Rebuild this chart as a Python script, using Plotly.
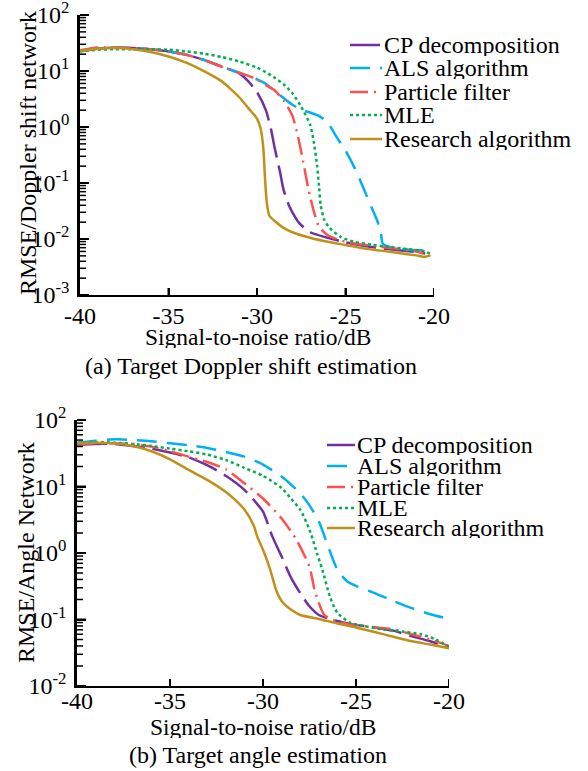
import math
import plotly.graph_objects as go

# ---------------- data: (a) Doppler shift estimation ----------------
snr_a_cp = [-40, -39, -38, -37, -36, -35, -34, -33, -32, -31, -30.5, -30, -29.5, -29.2, -29, -28.7, -28.5, -28.2, -28, -27.6, -27, -26, -25, -24, -23, -22, -21, -20.5]
rmse_a_cp = [22.9, 25.1, 26.3, 25.7, 24.5, 22.4, 19.5, 15.8, 12.0, 9.1, 6.6, 4.2, 2.0, 0.89, 0.42, 0.158, 0.076, 0.040, 0.030, 0.019, 0.0132, 0.0105, 0.0087, 0.0076, 0.0069, 0.0063, 0.0059, 0.0055]

snr_a_als = [-40, -39, -38, -37, -36, -35, -34, -33, -32, -31, -30, -29.5, -29, -28.5, -28, -27.5, -27, -26.5, -26, -25.5, -25, -24.5, -24, -23.5, -23.2, -23, -22.9, -22.5, -22, -21.5, -21, -20.5, -20.2]
rmse_a_als = [22.9, 25.7, 26.3, 25.7, 24.5, 22.4, 19.5, 15.8, 12.0, 9.3, 7.1, 5.9, 4.4, 3.3, 2.5, 2.04, 1.82, 1.58, 1.2, 0.66, 0.38, 0.19, 0.083, 0.035, 0.021, 0.0126, 0.0083, 0.0072, 0.0068, 0.0065, 0.0063, 0.0062, 0.0050]

snr_a_pf = [-40, -39, -38, -37, -36, -35, -34, -33, -32, -31, -30, -29.5, -29, -28.5, -28, -27.7, -27.4, -27.1, -26.8, -26.5, -26, -25, -24, -23, -22, -21, -20.6]
rmse_a_pf = [23.4, 26.3, 26.3, 25.7, 24.5, 22.4, 19.5, 15.8, 12.0, 9.3, 7.1, 5.6, 4.5, 3.0, 1.58, 0.71, 0.25, 0.079, 0.032, 0.0166, 0.0117, 0.0089, 0.0079, 0.0072, 0.0066, 0.0060, 0.0055]

snr_a_mle = [-40, -39, -38, -37, -36, -35, -34, -33, -32, -31, -30, -29.5, -29, -28.5, -28, -27.5, -27, -26.8, -26.6, -26.5, -26.4, -26.2, -25.9, -25.3, -24.5, -23.5, -22.5, -21.5, -20.5, -20.2]
rmse_a_mle = [22.4, 24.0, 24.5, 24.5, 24.5, 24.0, 22.4, 20.4, 17.8, 14.8, 11.5, 9.5, 7.6, 5.8, 4.0, 2.3, 1.1, 0.56, 0.20, 0.089, 0.040, 0.022, 0.0158, 0.011, 0.0089, 0.0079, 0.0072, 0.0066, 0.0060, 0.0054]

snr_a_res = [-40, -39, -38, -37, -36, -35, -34, -33, -32, -31.5, -31, -30.5, -30, -29.8, -29.65, -29.55, -29.45, -29.3, -29, -28.5, -28, -27, -26, -25, -24, -23, -22, -21, -20.5, -20.2]
rmse_a_res = [22.9, 25.1, 25.7, 24.5, 21.9, 18.2, 14.1, 10.0, 6.6, 4.8, 3.4, 2.2, 1.41, 0.95, 0.45, 0.126, 0.045, 0.026, 0.021, 0.0158, 0.0132, 0.0105, 0.0089, 0.0078, 0.0068, 0.0062, 0.0056, 0.0051, 0.0048, 0.0051]

# ---------------- data: (b) angle estimation ----------------
snr_b_cp = [-40, -39, -38, -37, -36, -35, -34, -33, -32, -31, -30.5, -30, -29.5, -29, -28.5, -28, -27.5, -27, -26, -25, -24, -23, -22, -21, -20]
rmse_b_cp = [42.7, 43.7, 43.7, 40.7, 37.2, 32.4, 27.5, 20.9, 14.5, 8.9, 6.3, 4.2, 1.78, 0.89, 0.43, 0.25, 0.158, 0.117, 0.095, 0.083, 0.076, 0.068, 0.056, 0.047, 0.038]

snr_b_als = [-40, -39, -38, -37, -36, -35, -34, -33, -32, -31, -30, -29, -28, -27.5, -27, -26.5, -26, -25.5, -25, -24, -23, -22, -21, -20.3]
rmse_b_als = [45.7, 49.0, 51.3, 50.1, 47.9, 44.7, 41.7, 38.0, 33.1, 28.2, 21.4, 14.1, 7.9, 5.2, 3.0, 1.26, 0.56, 0.38, 0.32, 0.25, 0.19, 0.148, 0.120, 0.107]

snr_b_pf = [-40, -39, -38, -37, -36, -35, -34, -33, -32, -31, -30, -29, -28.2, -27.5, -27.2, -26.7, -26, -25, -24, -23, -22, -21, -20]
rmse_b_pf = [43.7, 44.7, 44.7, 43.7, 39.8, 33.9, 28.2, 23.4, 18.2, 11.2, 6.6, 3.3, 1.58, 0.62, 0.26, 0.117, 0.093, 0.083, 0.076, 0.071, 0.060, 0.050, 0.040]

snr_b_mle = [-40, -39, -38, -37, -36, -35, -34, -33, -32, -31, -30, -29, -28.5, -28, -27.5, -27.1, -26.8, -26.4, -26, -25.3, -24.5, -23.5, -22.5, -21.5, -20.7, -20]
rmse_b_mle = [44.7, 46.8, 45.7, 43.7, 40.7, 37.2, 33.9, 30.2, 25.1, 19.1, 14.5, 9.5, 6.6, 4.5, 2.24, 1.0, 0.55, 0.22, 0.126, 0.089, 0.079, 0.071, 0.066, 0.060, 0.050, 0.039]

snr_b_res = [-40, -39, -38, -37, -36, -35, -34, -33, -32, -31.5, -31, -30.5, -30.3, -30, -29.6, -29.3, -29, -28.5, -28, -27, -26, -25, -24, -23, -22, -21, -20]
rmse_b_res = [44.7, 45.7, 44.7, 40.7, 33.9, 25.7, 17.8, 12.6, 8.3, 6.3, 4.5, 2.6, 1.74, 1.12, 0.55, 0.28, 0.19, 0.141, 0.117, 0.102, 0.087, 0.076, 0.065, 0.055, 0.047, 0.042, 0.037]

series_names = ["CP decomposition", "ALS algorithm", "Particle filter", "MLE", "Research algorithm"]
colors = ["#7030A0", "#00B0F0", "#FF5050", "#00B050", "#C09018"]
dashes = ["30px,8px", "20px,10px", "18px,6px,2px,6px", "3px,3px", "solid"]

x_ticks = [-40, -35, -30, -25, -20]
x_labels = ["-40", "-35", "-30", "-25", "-20"]
y_ticks_a = [1e-3, 1e-2, 1e-1, 1e0, 1e1, 1e2]
y_labels_a = ["10<sup>-3</sup>", "10<sup>-2</sup>", "10<sup>-1</sup>", "10<sup>0</sup>", "10<sup>1</sup>", "10<sup>2</sup>"]
y_ticks_b = [1e-2, 1e-1, 1e0, 1e1, 1e2]
y_labels_b = ["10<sup>-2</sup>", "10<sup>-1</sup>", "10<sup>0</sup>", "10<sup>1</sup>", "10<sup>2</sup>"]

W, H = 588, 771
FONT = "Liberation Serif"
FS = 24

data_a = [(snr_a_cp, rmse_a_cp), (snr_a_als, rmse_a_als), (snr_a_pf, rmse_a_pf), (snr_a_mle, rmse_a_mle), (snr_a_res, rmse_a_res)]
data_b = [(snr_b_cp, rmse_b_cp), (snr_b_als, rmse_b_als), (snr_b_pf, rmse_b_pf), (snr_b_mle, rmse_b_mle), (snr_b_res, rmse_b_res)]

fig = go.Figure()
for i in range(5):
    x, y = data_a[i]
    fig.add_trace(go.Scatter(x=x, y=y, mode="lines", name=series_names[i], showlegend=False,
                             line=dict(color=colors[i], width=2.5, dash=dashes[i], shape="spline", smoothing=0.6),
                             xaxis="x", yaxis="y"))
for i in range(5):
    x, y = data_b[i]
    fig.add_trace(go.Scatter(x=x, y=y, mode="lines", name=series_names[i], showlegend=False,
                             line=dict(color=colors[i], width=2.5, dash=dashes[i], shape="spline", smoothing=0.6),
                             xaxis="x2", yaxis="y2"))

def minor_vals(lo, hi):
    vals = []
    for e in range(lo, hi):
        for m in range(2, 10):
            vals.append(m * 10 ** e)
    return vals

def px_x(p):
    return p / W

def px_y(p):
    return 1 - p / H

tickfont = dict(family=FONT, size=FS, color="black")
common_x = dict(range=[-40, -20], tickmode="array", tickvals=x_ticks, ticktext=x_labels, ticks="inside", ticklen=7,
                tickwidth=2, tickcolor="#000000", showline=True, linewidth=2, linecolor="black", showgrid=False,
                zeroline=False, tickfont=tickfont, automargin=False, ticklabeloverflow="allow")
common_y = dict(type="log", tickmode="array", ticks="inside", ticklen=9, tickwidth=2, tickcolor="#000000",
                showline=True, linewidth=2.5, linecolor="black", showgrid=False, zeroline=False, tickfont=tickfont,
                ticklabelstandoff=3, automargin=False, ticklabeloverflow="allow")

# plot-area pixel geometry
A_X0, A_X1, A_Y0, A_Y1 = 80, 434, 15, 295
B_X0, B_X1, B_Y0, B_Y1 = 77, 449, 420, 686
rng_a = [-3, 2.0005]
rng_b = [-2, 2.0005]

fig.update_layout(
    template="none",
    width=W, height=H, autosize=False,
    margin=dict(l=0, r=0, t=0, b=0, pad=0, autoexpand=False),
    paper_bgcolor="white", plot_bgcolor="white",
    showlegend=False,
    font=dict(family=FONT, size=FS, color="black"),
    xaxis=dict(domain=[px_x(A_X0), px_x(A_X1)], anchor="y", ticklabelstandoff=-2, **common_x),
    yaxis=dict(domain=[px_y(A_Y1), px_y(A_Y0)], anchor="x", range=rng_a, tickvals=y_ticks_a, ticktext=y_labels_a, **common_y),
    xaxis2=dict(domain=[px_x(B_X0), px_x(B_X1)], anchor="y2", ticklabelstandoff=-8, **common_x),
    yaxis2=dict(domain=[px_y(B_Y1), px_y(B_Y0)], anchor="x2", range=rng_b, tickvals=y_ticks_b, ticktext=y_labels_b, **common_y),
)

annotations = []
shapes = []

# tick marks drawn inside the axes (comb on the log y axes, short marks on x axes)
def add_ticks(xa, ya, x0p, x1p, y0p, y1p, rng, majors, minors):
    pw = x1p - x0p
    ph = y1p - y0p
    for v in majors + minors:
        f = (math.log10(v) - rng[0]) / (rng[1] - rng[0])
        if f < -1e-6 or f > 1 + 1e-6:
            continue
        ln = 9 if v in majors else 6
        w = 2 if v in majors else 1.5
        shapes.append(dict(type="line", xref=xa + " domain", yref=ya + " domain", x0=0, x1=ln / pw, y0=f, y1=f,
                           line=dict(color="black", width=w)))
    for xv in x_ticks[1:]:
        shapes.append(dict(type="line", xref=xa, yref=ya + " domain", x0=xv, x1=xv, y0=0, y1=7 / ph,
                           line=dict(color="black", width=2)))

add_ticks("x", "y", A_X0, A_X1, A_Y0, A_Y1, rng_a, y_ticks_a, minor_vals(-3, 2))
add_ticks("x2", "y2", B_X0, B_X1, B_Y0, B_Y1, rng_b, y_ticks_b, minor_vals(-2, 2))

def text(x, y, s, xanchor="center", angle=0, size=FS, height=None):
    a = dict(x=px_x(x), y=px_y(y), xref="paper", yref="paper", text=s, showarrow=False,
             xanchor=xanchor, yanchor="middle", textangle=angle,
             font=dict(family=FONT, size=size, color="black"))
    if height is not None:
        a["height"] = height
    annotations.append(a)

# axis titles & captions
text(258, 337, "Signal-to-noise ratio/dB", size=23.5, height=22)
text(251, 366, "(a) Target Doppler shift estimation", height=26)
text(28, 153, "RMSE/Doppler shift network", angle=-90)
text(263, 727, "Signal-to-noise ratio/dB", size=23.5, height=22)
text(258, 755, "(b) Target angle estimation", height=26)
text(26, 553, "RMSE/Angle Network", angle=-90)

# legends (manual)
def legend(x0, x1, xt, ys, h):
    for i, yy in enumerate(ys):
        shapes.append(dict(type="line", xref="paper", yref="paper", x0=px_x(x0), x1=px_x(x1), y0=px_y(yy), y1=px_y(yy),
                           line=dict(color=colors[i], width=2.5, dash=dashes[i])))
        text(xt, yy, series_names[i], xanchor="left", height=h)

legend(350, 382, 382, [45, 68, 92, 115, 139], 22)
legend(327, 355, 355, [445, 466, 487, 508, 528], 20)

fig.update_layout(annotations=annotations, shapes=shapes)
fig.write_html("out.html")
